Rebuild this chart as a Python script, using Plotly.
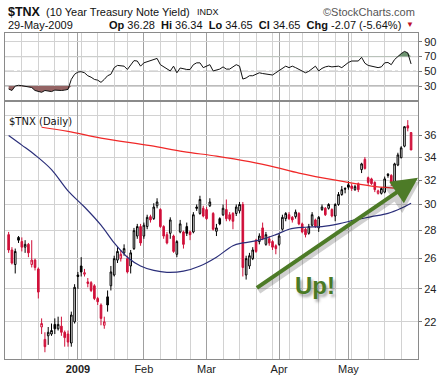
import math
import numpy as np
import pandas as pd
import plotly.graph_objects as go

# ---------------- data ----------------
HOLIDAYS = ["2008-12-25", "2009-01-01", "2009-01-19", "2009-02-16", "2009-04-10", "2009-05-25"]
DATES = [d for d in pd.bdate_range("2008-12-02", "2009-05-29") if d.strftime("%Y-%m-%d") not in HOLIDAYS]

OPEN = [27.7, 26.6, 25.6, 27.5, 27.2, 26.8, 27.0, 25.6, 25.9, 25.3,
        21.7, 21.0, 21.2, 21.3, 21.85, 21.6, 21.75, 21.4, 21.3, 20.8,
        22.0, 24.9, 25.5, 24.95, 24.45, 24.4, 24.2, 23.4, 23.0, 21.8,
        23.5, 24.2, 24.9, 25.9, 26.0, 26.4, 26.0, 25.5, 26.7, 27.6,
        28.3, 27.6, 28.3, 29.05, 28.9, 29.9, 29.6, 28.3, 27.7, 27.8,
        27.6, 26.3, 27.9, 27.9, 28.3, 27.9, 27.9, 29.8, 29.3, 29.7,
        29.6, 29.9, 29.3, 27.95, 28.9, 29.2, 29.6, 29.2, 29.3, 29.3,
        29.5, 30.0, 24.9, 25.5, 26.0, 27.3, 27.2, 28.2, 27.0, 27.4,
        27.2, 26.9, 27.0, 28.1, 28.9, 29.2, 29.0, 29.05, 29.3, 28.5,
        28.1, 27.8, 28.4, 28.8, 28.2, 29.6, 29.7, 29.7, 29.6, 29.1,
        30.0, 30.8, 31.3, 31.6, 31.5, 31.2, 31.7, 32.9, 33.8, 32.2,
        32.1, 31.8, 30.9, 30.9, 31.0, 32.5, 32.4, 31.6, 33.3, 33.95,
        35.0, 36.95, 36.28]
HIGH = [27.9, 26.8, 26.7, 27.6, 27.5, 27.3, 27.1, 27.3, 26.0, 25.4,
        22.2, 21.4, 21.7, 21.9, 22.2, 22.3, 22.3, 21.5, 21.5, 22.6,
        24.3, 25.1, 26.1, 25.3, 24.7, 24.5, 24.3, 23.5, 23.1, 22.3,
        23.9, 25.5, 26.2, 26.8, 26.6, 27.0, 26.2, 26.6, 28.2, 28.5,
        28.5, 28.6, 29.2, 29.2, 30.1, 30.5, 29.7, 28.4, 27.9, 29.0,
        27.7, 27.3, 28.8, 28.0, 28.6, 28.0, 29.4, 30.0, 30.7, 29.9,
        29.8, 30.5, 29.4, 28.5, 29.0, 30.0, 30.4, 29.4, 29.4, 30.0,
        30.2, 30.2, 26.2, 26.4, 26.8, 27.4, 27.8, 28.6, 27.9, 27.6,
        27.3, 27.0, 27.8, 29.2, 29.4, 29.4, 29.1, 29.6, 29.4, 28.6,
        28.2, 28.5, 29.4, 28.9, 29.1, 30.0, 29.8, 30.1, 29.7, 30.1,
        31.0, 31.5, 31.4, 31.9, 31.7, 31.6, 31.8, 33.5, 34.0, 32.3,
        32.2, 31.9, 31.2, 31.4, 32.3, 32.6, 32.5, 33.5, 34.4, 35.0,
        36.9, 37.5, 36.34]
LOW = [26.4, 25.6, 25.0, 27.1, 26.5, 26.4, 26.1, 25.4, 25.2, 23.4,
       21.3, 20.3, 20.7, 21.2, 21.3, 21.5, 21.2, 20.6, 20.6, 20.6,
       21.9, 24.0, 24.8, 24.8, 24.1, 23.8, 23.3, 23.0, 21.8, 21.6,
       22.6, 23.9, 24.8, 25.7, 25.8, 26.2, 25.0, 25.0, 26.6, 27.4,
       26.9, 27.4, 28.1, 28.6, 28.8, 29.7, 28.2, 27.4, 27.0, 27.4,
       26.4, 26.1, 27.8, 26.7, 27.6, 27.3, 27.8, 29.5, 29.2, 29.0,
       28.8, 29.8, 28.0, 27.6, 28.4, 29.1, 28.7, 28.7, 28.1, 29.1,
       29.3, 24.8, 24.6, 25.3, 25.9, 26.4, 27.0, 27.3, 26.9, 26.9,
       26.6, 26.3, 26.9, 28.0, 28.7, 28.8, 28.6, 28.9, 28.4, 27.8,
       27.5, 27.7, 28.3, 28.2, 27.9, 29.5, 29.1, 29.6, 29.0, 28.7,
       29.9, 30.7, 30.9, 31.2, 31.1, 31.1, 31.0, 32.6, 32.9, 31.6,
       31.6, 31.0, 30.8, 30.8, 30.9, 32.2, 31.5, 31.5, 33.2, 33.9,
       34.9, 36.4, 34.65]
CLOSE = [26.6, 25.7, 26.5, 27.3, 26.8, 27.0, 26.4, 25.9, 25.4, 23.8,
         21.9, 20.6, 21.4, 21.5, 21.6, 21.85, 21.4, 21.1, 20.85, 22.4,
         24.1, 24.8, 25.1, 25.05, 24.35, 23.9, 23.4, 23.2, 22.2, 22.0,
         23.0, 25.1, 26.0, 26.5, 26.3, 26.7, 25.1, 26.4, 28.0, 28.3,
         27.1, 28.4, 29.0, 28.8, 29.8, 30.2, 28.3, 27.6, 27.1, 28.8,
         26.5, 27.2, 28.5, 27.0, 27.8, 27.7, 29.2, 29.7, 30.4, 29.1,
         28.9, 30.2, 28.1, 28.2, 28.5, 29.7, 28.9, 28.85, 28.7, 29.8,
         30.0, 25.4, 26.0, 26.2, 26.6, 26.5, 27.6, 27.4, 27.7, 27.1,
         26.8, 26.7, 27.6, 29.0, 29.3, 28.9, 28.8, 29.4, 28.5, 27.9,
         27.7, 28.3, 29.2, 28.3, 29.0, 29.8, 29.2, 30.0, 29.1, 30.0,
         30.8, 31.2, 31.25, 31.4, 31.3, 31.45, 31.2, 33.4, 33.0, 31.8,
         31.7, 31.2, 31.1, 31.3, 32.1, 32.4, 31.8, 33.4, 34.2, 34.85,
         36.85, 36.72, 34.65]

RSI = [26, 24, 30, 31, 30.5, 30, 29, 28, 24, 22.5,
       21.5, 24, 23, 22.5, 24.5, 24, 24, 24.5, 25.5, 39,
       46, 49, 49.5, 48, 44, 42, 39, 38, 35, 39,
       44, 46, 55, 58, 58, 57, 52.5, 59, 64.5, 64,
       57, 61.5, 63, 64, 66, 67.5, 59, 56, 53, 50.5,
       57, 48, 54.5, 53, 52.5, 52.5, 59, 61.5, 61.5, 55,
       57, 59, 50.5, 52, 53, 56, 53, 53, 55.5, 59,
       57, 39.5, 41, 44, 44, 46, 48, 47, 46, 46,
       45, 48, 51, 53, 57, 55, 57, 55, 52.5, 50.5,
       48, 50, 53, 57, 50.5, 54, 56, 57, 56, 56,
       57, 55, 59, 62, 64, 64.5, 64, 69, 61, 58,
       57, 55, 55, 56, 61.5, 62, 59, 66, 70.5, 74,
       77, 75, 60]

SMA50_IDX = [0, 4, 8, 13, 18, 23, 28, 32, 36, 40, 44, 48, 53, 58, 63, 68, 71, 76, 81, 85, 90, 95, 100, 105, 110, 115, 119, 122]
SMA50_VAL = [36.0, 35.1, 34.2, 32.9, 31.1, 29.8, 28.4, 27.1, 26.1, 25.5, 25.2, 25.07, 25.15, 25.5, 26.1, 26.9, 27.1, 27.3, 27.7, 28.1, 28.25, 28.3, 28.5, 28.8, 29.05, 29.3, 29.7, 30.1]
SMA200_IDX = [10, 18, 28, 43, 53, 63, 73, 81, 88, 100, 110, 116, 122]
SMA200_VAL = [36.8, 36.4, 35.75, 35.05, 34.5, 34.1, 33.6, 33.1, 32.6, 31.95, 31.5, 31.35, 31.27]

MONTH_LABELS = ["<b>2009</b>", "Feb", "Mar", "Apr", "May"]
PRICE_TICKS = [22, 24, 26, 28, 30, 32, 34, 36]
PRICE_EXTRA_GRID = [38]
RSI_TICKS = [30, 50, 70, 90]
RSI_OB, RSI_MID, RSI_OS = 70, 50, 30

# ---------------- derived ----------------
N = len(DATES)
X = list(range(N))
month_idx = [i for i in range(1, N) if DATES[i].month != DATES[i - 1].month]
week_idx = [i for i in range(1, N) if DATES[i].isocalendar()[1] != DATES[i - 1].isocalendar()[1]]

up = [i for i in range(N) if (CLOSE[i] >= CLOSE[i - 1] if i > 0 else CLOSE[i] >= OPEN[i])]
dn = [i for i in range(N) if i not in up]

FONT = "Liberation Sans, Arial, sans-serif"
RED = "#d0103a"

fig = go.Figure()

def candle(idx, color, filled):
    return go.Candlestick(
        x=[X[i] for i in idx], open=[OPEN[i] for i in idx], high=[HIGH[i] for i in idx],
        low=[LOW[i] for i in idx], close=[CLOSE[i] for i in idx],
        xaxis="x", yaxis="y",
        increasing=dict(line=dict(color=color, width=1), fillcolor="white"),
        decreasing=dict(line=dict(color=color, width=1), fillcolor=filled),
        whiskerwidth=0, hoverinfo="skip", showlegend=False)

fig.add_trace(go.Scatter(x=SMA200_IDX, y=SMA200_VAL, mode="lines", line=dict(color="#f02828", width=1.2, shape="spline"),
                         xaxis="x", yaxis="y", hoverinfo="skip"))
fig.add_trace(go.Scatter(x=SMA50_IDX, y=SMA50_VAL, mode="lines", line=dict(color="#2b2f7a", width=1.2, shape="spline"),
                         xaxis="x", yaxis="y", hoverinfo="skip"))
fig.add_trace(candle(up, "black", "black"))
fig.add_trace(candle(dn, RED, RED))

# RSI panel
rsi_lo = [min(v, RSI_OS) for v in RSI]
rsi_hi = [max(v, RSI_OB) for v in RSI]
fig.add_trace(go.Scatter(x=X, y=[RSI_OS] * N, mode="lines", line=dict(width=0), xaxis="x2", yaxis="y2", hoverinfo="skip"))
fig.add_trace(go.Scatter(x=X, y=rsi_lo, mode="lines", line=dict(width=0), fill="tonexty", fillcolor="#946464",
                         xaxis="x2", yaxis="y2", hoverinfo="skip"))
fig.add_trace(go.Scatter(x=X, y=[RSI_OB] * N, mode="lines", line=dict(width=0), xaxis="x2", yaxis="y2", hoverinfo="skip"))
fig.add_trace(go.Scatter(x=X, y=rsi_hi, mode="lines", line=dict(width=0), fill="tonexty", fillcolor="#6d9470",
                         xaxis="x2", yaxis="y2", hoverinfo="skip"))
fig.add_trace(go.Scatter(x=X, y=RSI, mode="lines", line=dict(color="#111111", width=1), xaxis="x2", yaxis="y2", hoverinfo="skip"))

for lvl, dash in [(RSI_OB, "solid"), (RSI_MID, "dashdot"), (RSI_OS, "solid")]:
    fig.add_shape(type="line", xref="x2 domain", yref="y2", x0=0, x1=1, y0=lvl, y1=lvl,
                  line=dict(color="#6a6a6a", width=1, dash=dash), layer="below")

GRID = "#d2d2d2"
MGRID = "#a0a0a0"
xcommon = dict(range=[-1.1, 124.1], tickvals=month_idx, showgrid=True, gridcolor=MGRID, gridwidth=1,
               minor=dict(tickvals=week_idx, showgrid=True, gridcolor=GRID, ticks=""),
               zeroline=False, showline=True, linecolor="#8a8a8a", linewidth=1, mirror=True,
               rangeslider=dict(visible=False), fixedrange=True)

fig.update_layout(
    width=443, height=379, margin=dict(l=4, r=25, t=33, b=14),
    paper_bgcolor="white", plot_bgcolor="white", showlegend=False,
    font=dict(family=FONT, size=11, color="#222"),
    xaxis=dict(**xcommon, domain=[0, 1], anchor="y", ticktext=MONTH_LABELS, ticks="",
               tickfont=dict(size=11, family=FONT, color="#222")),
    yaxis=dict(domain=[0, 0.789], type="log", range=[math.log10(19.94), math.log10(39.36)], side="right",
               tickvals=PRICE_TICKS, ticktext=[str(v) for v in PRICE_TICKS], showgrid=True, gridcolor=GRID,
               minor=dict(tickvals=PRICE_EXTRA_GRID, showgrid=True, gridcolor=GRID, ticks=""),
               ticks="outside", ticklen=3, tickcolor="#777", zeroline=False, showline=True, linecolor="#8a8a8a",
               mirror=True, tickfont=dict(size=11, family=FONT, color="#222"), fixedrange=True),
    xaxis2=dict(**xcommon, domain=[0, 1], anchor="y2", matches="x", showticklabels=False, ticks=""),
    yaxis2=dict(domain=[0.795, 1], range=[11.3, 102], side="right", tickvals=RSI_TICKS, showgrid=True,
                gridcolor=GRID, ticks="outside", ticklen=3, tickcolor="#777", zeroline=False, showline=True,
                linecolor="#8a8a8a", mirror=True, tickfont=dict(size=11, family=FONT, color="#222"), fixedrange=True),
)

def px_x(p):
    return (p - 4) / 414.0

def px_y(p):
    return (365 - p) / 332.0

ann = []
ann.append(dict(text="<b>$TNX</b>", x=px_x(5), y=px_y(11.5), xanchor="left", yanchor="middle",
                font=dict(size=12.5, family=FONT, color="#111")))
ann.append(dict(text="(10 Year Treasury Note Yield)", x=px_x(43), y=px_y(12), xanchor="left", yanchor="middle",
                font=dict(size=11, family=FONT, color="#111")))
ann.append(dict(text="INDX", x=px_x(194), y=px_y(12), xanchor="left", yanchor="middle",
                font=dict(size=9, family=FONT, color="#111")))
ann.append(dict(text="©StockCharts.com", x=px_x(417), y=px_y(12), xanchor="right", yanchor="middle",
                font=dict(size=11, family=FONT, color="#555")))
ann.append(dict(text=DATES[-1].strftime("%d-%b-%Y"), x=px_x(5), y=px_y(24.5), xanchor="left", yanchor="middle",
                font=dict(size=11, family=FONT, color="#111")))
chg = CLOSE[-1] - CLOSE[-2]
pct = chg / CLOSE[-2] * 100
info = ("<b>Op</b> %.2f  <b>Hi</b> %.2f  <b>Lo</b> %.2f  <b>Cl</b> %.2f  <b>Chg</b> %.2f (%.2f%%)"
        % (OPEN[-1], HIGH[-1], LOW[-1], CLOSE[-1], chg, pct))
ann.append(dict(text=info, x=px_x(403), y=px_y(24.5), xanchor="right", yanchor="middle",
                font=dict(size=11, family=FONT, color="#111")))
ann.append(dict(text="▼", x=px_x(404), y=px_y(24.5), xanchor="left", yanchor="middle",
                font=dict(size=8, family=FONT, color="#c0102a")))
ann.append(dict(text="$TNX (Daily)", x=px_x(6), y=px_y(123), xanchor="left", yanchor="middle",
                font=dict(size=10, family="DejaVu Sans, Verdana, sans-serif", color="#111")))
for a in ann:
    a.update(xref="paper", yref="paper", showarrow=False)
    fig.add_annotation(**a)

# Trend arrow with soft shadow and the "Up!" note
tip_x, tip_p = 124.1, 32.2
tail_x, tail_p = 74.8, 24.0
fig.add_annotation(x=tip_x + 0.6, y=math.log10(tip_p) - 0.004, ax=tail_x + 0.6, ay=math.log10(tail_p) - 0.004,
                   xref="x", yref="y", axref="x", ayref="y", text="", showarrow=True, arrowhead=2,
                   arrowsize=1.3, arrowwidth=5, arrowcolor="rgba(0,0,0,0.18)")
fig.add_annotation(x=tip_x, y=math.log10(tip_p), ax=tail_x, ay=math.log10(tail_p),
                   xref="x", yref="y", axref="x", ayref="y", text="", showarrow=True, arrowhead=2,
                   arrowsize=1.3, arrowwidth=4, arrowcolor="#4d7b27")
fig.add_annotation(x=93, y=math.log10(24.22), xref="x", yref="y", text="<b>Up!</b>", showarrow=False,
                   font=dict(size=24, family=FONT, color="#4a7a25", shadow="2px 3px 3px rgba(0,0,0,0.35)"))

fig.write_html("out.html", config={"displayModeBar": False, "staticPlot": True},
               post_script="document.body.style.margin='0';document.body.style.overflow='hidden';")
